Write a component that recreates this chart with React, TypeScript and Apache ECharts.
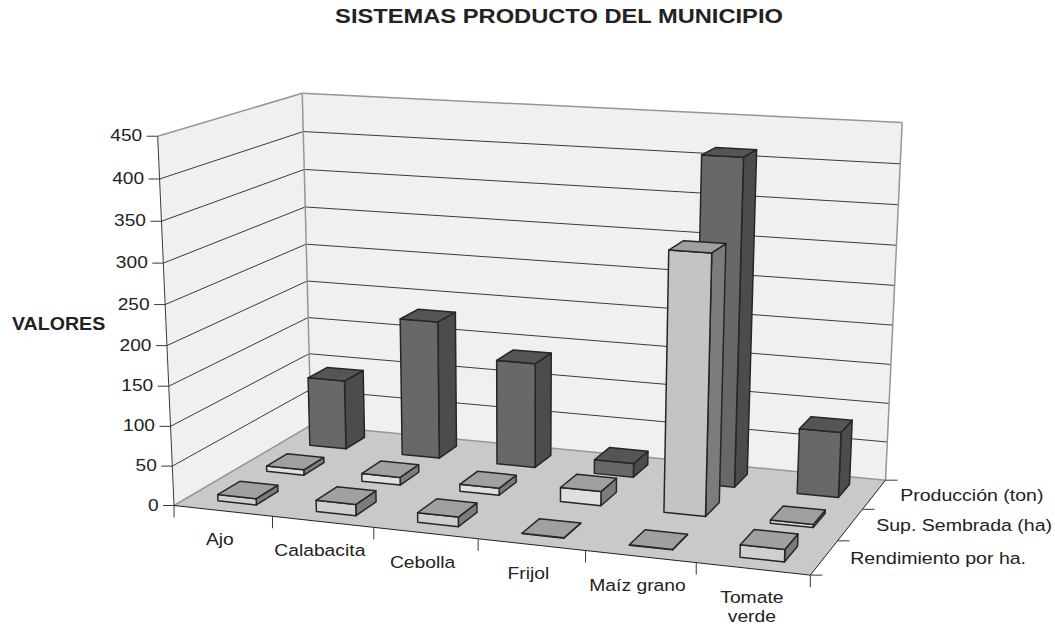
import React, { useEffect, useRef } from "react";
import * as echarts from "echarts";

const title = "SISTEMAS PRODUCTO DEL MUNICIPIO";
const yAxisName = "VALORES";
const categories = ["Ajo", "Calabacita", "Cebolla", "Frijol", "Maíz grano", "Tomate\nverde"];
const yTicks = [0, 50, 100, 150, 200, 250, 300, 350, 400, 450];
const rendimiento = [8, 14, 12, 0.5, 0.5, 15];
const sembrada = [7, 10, 9, 18, 321, 4];
const produccion = [92, 181, 137, 18, 413, 83];
const depthNames = ["Rendimiento por ha.", "Sup. Sembrada (ha)", "Producción (ton)"];

const FONT = '"Liberation Sans", Arial, sans-serif';
const INK = "#222222";
const G = 600; // size of the hidden helper grid whose scales normalise values

// Corners of the 3D box: [u, v, w] → [x, y]
const anchors: number[][] = [
  [0, 0, 0, 175, 504],
  [1, 0, 0, 810, 577],
  [0, 1, 0, 310, 427],
  [1, 1, 0, 886, 478],
  [0, 0, 1, 157, 136],
  [0, 1, 1, 303, 93],
  [1, 1, 1, 902, 123],
];

function solveProjection(): number[] {
  const n = 11;
  const A: number[][] = [];
  const b: number[] = [];
  for (const [u, v, w, x, y] of anchors) {
    A.push([u, v, w, 1, 0, 0, 0, 0, -x * u, -x * v, -x * w]);
    b.push(x);
    A.push([0, 0, 0, 0, u, v, w, 1, -y * u, -y * v, -y * w]);
    b.push(y);
  }
  const M: number[][] = [];
  for (let i = 0; i < n; i++) {
    const row: number[] = [];
    for (let j = 0; j < n; j++) {
      let s = 0;
      for (let k = 0; k < A.length; k++) s += A[k][i] * A[k][j];
      row.push(s);
    }
    let s = 0;
    for (let k = 0; k < A.length; k++) s += A[k][i] * b[k];
    row.push(s);
    M.push(row);
  }
  for (let i = 0; i < n; i++) {
    let p = i;
    for (let r = i + 1; r < n; r++) if (Math.abs(M[r][i]) > Math.abs(M[p][i])) p = r;
    [M[i], M[p]] = [M[p], M[i]];
    for (let r = 0; r < n; r++) {
      if (r === i) continue;
      const f = M[r][i] / M[i][i];
      for (let c = i; c <= n; c++) M[r][c] -= f * M[i][c];
    }
  }
  return M.map((row, i) => row[n] / row[i]);
}
const H = solveProjection();
function project(u: number, v: number, w: number): number[] {
  const d = H[8] * u + H[9] * v + H[10] * w + 1;
  return [
    (H[0] * u + H[1] * v + H[2] * w + H[3]) / d,
    (H[4] * u + H[5] * v + H[6] * w + H[7]) / d,
  ];
}

const poly = (points: number[][], fill: string, stroke: string, lineWidth: number) => ({
  type: "polygon",
  shape: { points },
  style: { fill, stroke, lineWidth, lineJoin: "round" },
});
const line = (a: number[], b: number[], stroke: string, lineWidth: number) => ({
  type: "line",
  shape: { x1: a[0], y1: a[1], x2: b[0], y2: b[1] },
  style: { stroke, lineWidth, fill: "none" },
});
const label = (text: string, x: number, y: number, align: string, size = 16.5, stretch = 1.17, weight = "") => ({
  type: "text",
  x,
  y,
  scaleX: stretch,
  style: {
    text,
    x: 0,
    y: 0,
    align,
    verticalAlign: "middle",
    font: `${weight} ${size}px ${FONT}`,
    fill: INK,
    lineHeight: 19,
  },
});

function renderFrame(_p: any, api: any) {
  const norm = (val: number) => 1 - api.coord([0, val])[1] / G;
  const band = api.size([1, 0])[0];
  const wall = "#f0f0f0";
  const floor = "#c9c9c9";
  const rim = "#969696";
  const children: any[] = [
    poly([project(0, 0, 0), project(0, 1, 0), project(0, 1, 1), project(0, 0, 1)], wall, "none", 0),
    poly([project(0, 1, 0), project(1, 1, 0), project(1, 1, 1), project(0, 1, 1)], wall, "none", 0),
    poly([project(0, 0, 0), project(1, 0, 0), project(1, 1, 0), project(0, 1, 0)], floor, "none", 0),
  ];
  yTicks.forEach((t) => {
    const w = norm(t);
    if (t > 0 && t < 450) {
      children.push(line(project(0, 0, w), project(0, 1, w), "#3a3a3a", 1));
      children.push(line(project(0, 1, w), project(1, 1, w), "#3a3a3a", 1));
    }
    const p = project(0, 0, w);
    children.push(line([p[0] - 11, p[1]], p, "#3a3a3a", 1));
    children.push(label(String(t), p[0] - 15.5, p[1] - 0.5, "right", 16.5, 1.16));
  });
  // rim of walls and floor
  children.push(line(project(0, 0, 1), project(0, 1, 1), rim, 1.5));
  children.push(line(project(0, 1, 1), project(1, 1, 1), rim, 1.5));
  children.push(line(project(1, 1, 1), project(1, 1, 0), rim, 1.5));
  children.push(line(project(0, 1, 1), project(0, 1, 0), rim, 1.5));
  children.push(line(project(0, 0, 0), project(0, 1, 0), rim, 1.5));
  children.push(line(project(0, 1, 0), project(1, 1, 0), rim, 1.5));
  // axes
  children.push(line(project(0, 0, 0), project(0, 0, 1), "#3a3a3a", 1));
  children.push(line(project(0, 0, 0), project(1, 0, 0), "#222222", 1));
  children.push(line(project(1, 0, 0), project(1, 1, 0), "#222222", 1));
  categories.forEach((c, i) => {
    const p = project((i * band) / G, 0, 0);
    children.push(line(p, [p[0], p[1] + 12], "#3a3a3a", 1));
    const q = project(((i + 0.5) * band) / G, 0, 0);
    const two = c.includes("\n");
    children.push(label(c, q[0] - (two ? 1 : 3), q[1] + (two ? 38.5 : 29), "center"));
  });
  const last = project(1, 0, 0);
  children.push(line(last, [last[0], last[1] + 12], "#3a3a3a", 1));
  [0, 1, 2, 3].forEach((r) => {
    const p = project(1, r / 3, 0);
    children.push(line(p, [p[0] + 12, p[1]], "#3a3a3a", 1));
  });
  depthNames.forEach((d, r) => {
    const p = project(1, (r + 0.5) / 3, 0);
    children.push(label(d, p[0] + 26, p[1], "left", 17, 1.15));
  });
  return { type: "group", children };
}

const makeBar = (row: number, shiftV: number, front: (val: number) => string, top: string, side: string) =>
  function renderBar(_p: any, api: any) {
    const val = api.value(1);
    const c = api.coord([api.value(0), val]);
    const band = api.size([1, 0])[0];
    const w = 1 - c[1] / G;
    const u0 = (c[0] + (0.01 - 0.197) * band) / G;
    const u1 = (c[0] + (0.01 + 0.197) * band) / G;
    const v0 = (row + 0.27) / 3 + shiftV;
    const v1 = (row + 0.73) / 3 + shiftV;
    const s = "#262626";
    const lw = 1.5;
    return {
      type: "group",
      children: [
        poly([project(u1, v0, 0), project(u1, v1, 0), project(u1, v1, w), project(u1, v0, w)], side, s, lw),
        poly([project(u0, v0, 0), project(u1, v0, 0), project(u1, v0, w), project(u0, v0, w)], front(val), s, lw),
        poly([project(u0, v0, w), project(u1, v0, w), project(u1, v1, w), project(u0, v1, w)], top, s, lw),
      ],
    };
  };

const seriesData = (vals: number[]) => vals.map((v, i) => [i, v]);

export default function App() {
  const ref = useRef<HTMLDivElement>(null);
  useEffect(() => {
    const chart = echarts.init(ref.current!, undefined, { renderer: "svg" });
    chart.setOption({
      animation: false,
      backgroundColor: "#ffffff",
      grid: { left: 0, top: 0, width: G, height: G, show: false },
      xAxis: { type: "category", data: categories, show: false },
      yAxis: { type: "value", min: 0, max: 450, interval: 50, show: false },
      tooltip: { show: false },
      graphic: [
        { type: "text", x: 559, y: 16.5, scaleX: 1.215, style: { text: title, x: 0, y: 0, align: "center", verticalAlign: "middle", font: `bold 19.5px ${FONT}`, fill: INK } },
        { type: "text", x: 12, y: 324, scaleX: 1.12, style: { text: yAxisName, x: 0, y: 0, align: "left", verticalAlign: "middle", font: `bold 17.5px ${FONT}`, fill: INK } },
      ],
      series: [
        { type: "custom", name: "frame", silent: true, z: 1, data: [[0, 0]], renderItem: renderFrame, encode: { x: 0, y: 1 } },
        { type: "custom", name: depthNames[2], silent: true, z: 2, data: seriesData(produccion), renderItem: makeBar(2, 0.008, () => "#686868", "#555555", "#4c4c4c"), encode: { x: 0, y: 1 } },
        { type: "custom", name: depthNames[1], silent: true, z: 3, data: seriesData(sembrada), renderItem: makeBar(1, 0.012, (v) => (v < 100 ? "#e0e0e0" : "#c4c4c4"), "#a0a0a0", "#7c7c7c"), encode: { x: 0, y: 1 } },
        { type: "custom", name: depthNames[0], silent: true, z: 4, data: seriesData(rendimiento), renderItem: makeBar(0, 0, () => "#cfcfcf", "#a0a0a0", "#7c7c7c"), encode: { x: 0, y: 1 } },
      ],
    });
    return () => chart.dispose();
  }, []);
  return <div ref={ref} style={{ position: "absolute", left: 0, top: 0, width: 1055, height: 626 }} />;
}
